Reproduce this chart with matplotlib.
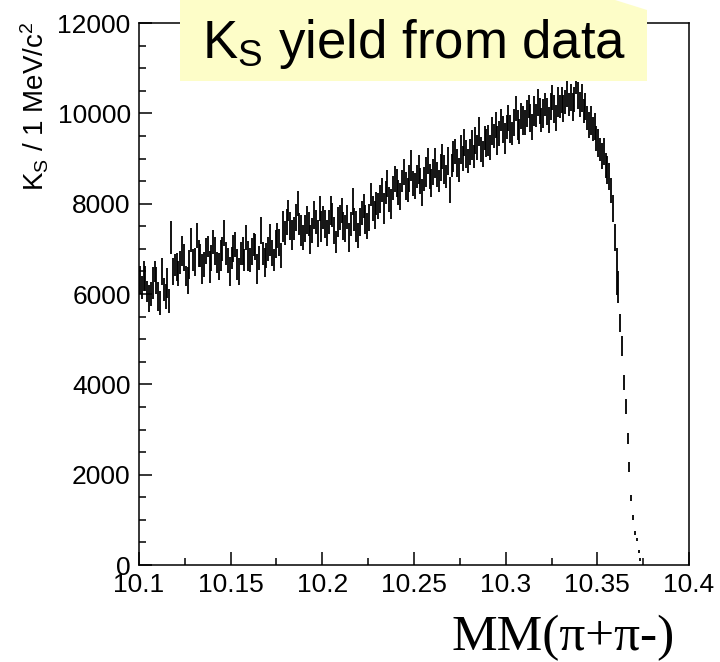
import numpy as np
import matplotlib
matplotlib.use('Agg')
import matplotlib.pyplot as plt
from matplotlib.patches import Polygon
from matplotlib.ticker import MultipleLocator

plt.rcParams['font.family'] = ['Liberation Sans', 'DejaVu Sans']
plt.rcParams['mathtext.fontset'] = 'custom'
plt.rcParams['mathtext.rm'] = 'Liberation Sans'
plt.rcParams['mathtext.it'] = 'Liberation Sans:italic'

# histogram range, 1 MeV bins starting at 10.1 GeV
x_start = 10.1
bin_width = 0.001

# K_S yield per bin
yields = [
    6300, 6150, 6400, 6350, 6050, 5900, 6000, 6250, 6500, 6300,
    5950, 5800, 6500, 6100, 5950, 6250, 5850, 7250, 6500, 6650,
    6600, 6450, 6700, 6950, 6800, 6400, 6300, 6650, 7200, 6750,
    6700, 7300, 6900, 6850, 6550, 6650, 6950, 7050, 6600, 6800,
    7150, 6950, 6700, 6600, 6850, 7000, 7350, 6900, 6750, 6500,
    6800, 7000, 7100, 6650, 6500, 6900, 6950, 6750, 7250, 6850,
    6750, 6950, 7100, 7050, 6550, 6800, 7400, 6900, 6700, 6850,
    7000, 7200, 6900, 6750, 7100, 7300, 7150, 6850, 7500, 7350,
    7600, 7850, 7500, 7300, 7450, 7700, 8000, 7550, 7400, 7250,
    7450, 7650, 7550, 7200, 7400, 7750, 7600, 7350, 7900, 7500,
    7700, 7550, 7350, 7600, 7850, 7750, 7400, 7150, 7600, 7700,
    7850, 7500, 7450, 7700, 7250, 7550, 8050, 7650, 7500, 7300,
    7600, 7800, 7950, 7650, 7500, 7700, 8200, 7900, 7750, 8000,
    7950, 8100, 8300, 7900, 8250, 8450, 8100, 8000, 8350, 8550,
    8450, 8250, 8150, 8500, 8700, 8400, 8300, 8550, 8850, 8450,
    8400, 8600, 8750, 8500, 8250, 8550, 8700, 8950, 8600, 8450,
    8700, 8900, 8650, 8500, 8800, 9050, 8750, 8600, 8950, 8300,
    8850, 9050, 9150, 8900, 8750, 9200, 9000, 9350, 9100, 8950,
    9150, 9300, 9050, 9400, 9250, 9600, 9200, 9100, 9450, 9350,
    9400, 9250, 9600, 9500, 9750, 9400, 9550, 9850, 9650, 9450,
    9700, 9900, 9650, 9550, 9800, 10100, 9750, 9600, 9950, 9850,
    9800, 10000, 10150, 9900, 9700, 10050, 9950, 10250, 10050, 9850,
    10000, 10200, 10050, 9850, 10150, 10350, 10100, 9900, 10250, 10150,
    10300, 10100, 10250, 10450, 10200, 10350, 10150, 10300, 10700, 10400,
    10200, 10350, 10050, 10150, 9900, 9750, 9850, 9650, 9700, 9450,
    9350, 9200, 9050, 9150, 8850, 8750,
    8600, 8300, 7900, 7250, 6500, 6150, 5350, 4850, 4050, 3500,
    2800, 2180, 1480, 1050, 700, 560, 300, 120,
]

# error on each bin
errors = [
    310, 260, 340, 280, 230, 300, 270, 350, 240, 290, 320, 260, 300, 250, 280, 330,
    270, 360, 290, 240, 310, 280, 260, 340, 300, 230, 290, 320, 270, 250, 310, 280,
    300, 250, 330, 270, 290, 240, 350, 280, 260, 310, 230, 300, 340, 270, 290, 260,
    280, 320, 250, 300, 270, 340, 290, 260, 310, 240, 280, 330, 260, 300, 250, 290,
    330, 270, 300, 250, 320, 280, 260, 350, 290, 240, 310, 270, 300, 280, 340, 260,
    290, 240, 310, 330, 260, 300, 280, 250, 340, 270, 290, 310, 260, 320, 280, 300,
    260, 300, 280, 340, 250, 310, 290, 270, 320, 260, 300, 240, 330, 280, 270, 310,
    300, 270, 330, 260, 290, 250, 340, 280, 310, 270, 260, 320, 290, 300, 250, 280,
    320, 260, 290, 310, 270, 340, 250, 300, 280, 330, 260, 290, 310, 270, 300, 250,
    280, 310, 260, 300, 340, 270, 290, 250, 320, 280, 300, 260, 330, 290, 270, 310,
    290, 330, 270, 250, 300, 280, 320, 260, 310, 290, 250, 340, 280, 300, 270, 320,
    270, 300, 310, 260, 290, 330, 250, 300, 280, 320, 270, 290, 260, 310, 340, 280,
    310, 260, 290, 320, 280, 250, 300, 340, 270, 290, 310, 260, 300, 280, 330, 270,
    290, 320, 270, 300, 260, 310, 280, 330, 250, 300, 290, 270, 320, 260, 300, 280,
    300, 270, 310, 280, 330, 260, 290, 300, 270, 320, 250, 290, 310, 280, 270, 300,
    280, 310, 270, 300, 260, 290, 320, 270, 300, 280, 310, 260, 290, 300, 270, 310,
    300, 280, 300, 300, 530, 350, 200, 220, 165, 165, 130, 110, 65, 55, 45, 35,
    35, 30,
]

x_ticks = [10.1, 10.15, 10.2, 10.25, 10.3, 10.35, 10.4]
x_tick_labels = ['10.1', '10.15', '10.2', '10.25', '10.3', '10.35', '10.4']
y_ticks = [0, 2000, 4000, 6000, 8000, 10000, 12000]

centers = x_start + bin_width * (np.arange(len(yields)) + 0.5)

fig = plt.figure(figsize=(7.2, 6.62), dpi=100)
ax = fig.add_axes([0.193, 0.1465, 0.764, 0.8187])

# ROOT style error bars, no markers
ax.errorbar(centers, yields, yerr=errors, fmt='none', ecolor='black', elinewidth=1.3)

ax.set_xlim(10.1, 10.4)
ax.set_ylim(0, 12000)
ax.set_xticks(x_ticks)
ax.set_xticklabels(x_tick_labels)
ax.set_yticks(y_ticks)
ax.xaxis.set_minor_locator(MultipleLocator(0.025))
ax.yaxis.set_minor_locator(MultipleLocator(500))
ax.tick_params(which='both', direction='in', width=1.1, labelsize=19, pad=6)
ax.tick_params(which='major', length=9.7)
ax.tick_params(which='minor', length=5)
for s in ax.spines.values():
    s.set_linewidth(1.1)

# y title, top aligned like ROOT
fig.text(0.049, 0.968, r'K$_{\rm S}$ / 1 MeV/c$^{2}$', rotation=90,
         ha='center', va='top', fontsize=20)

# x title in a serif face at the bottom right
fig.text(0.9375, 0.002, 'MM(\u03c0+\u03c0-)', family=['Liberation Serif', 'DejaVu Serif'],
         ha='right', va='bottom', fontsize=37)

# yellow label box on top of the frame
box = Polygon([(180 / 720, 1 - 81 / 662), (647 / 720, 1 - 81 / 662),
               (647 / 720, 1 - 10 / 662), (615 / 720, 1.0), (180 / 720, 1.0)],
              closed=True, transform=fig.transFigure, facecolor='#fdfdc8',
              edgecolor='none', zorder=2)
fig.add_artist(box)
fig.text(202 / 720, 1 - 58 / 662, r'K$_{\rm S}$ yield from data', ha='left',
         va='baseline', fontsize=38, zorder=3)

fig.savefig('out.png', dpi=100)
